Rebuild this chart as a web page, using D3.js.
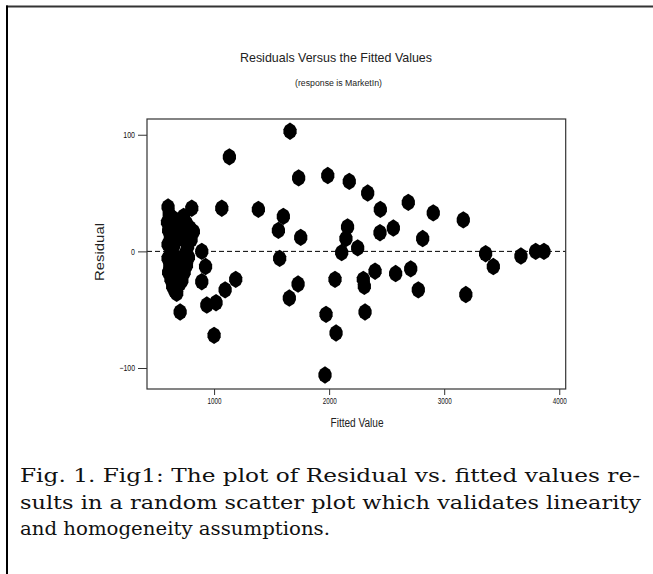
<!DOCTYPE html>
<html><head><meta charset="utf-8">
<script src="https://cdn.jsdelivr.net/npm/d3@7"></script>
<style>body{margin:0;background:#fff}svg{display:block}</style>
</head><body>
<svg id="c" width="653" height="574"></svg>
<script>
const title = "Residuals Versus the Fitted Values";
const subtitle = "(response is MarketIn)";
const xLabel = "Fitted Value";
const yLabel = "Residual";
const xTicks = [1000, 2000, 3000, 4000];
const yTicks = [-100, 0, 100];
const captionLines = [
  "Fig. 1. Fig1: The plot of Residual vs. fitted values re-",
  "sults in a random scatter plot which validates linearity",
  "and homogeneity assumptions."
];
// fitted values and residuals
const fitted = [
  600,610,595,605,620,600,625,600,615,605,625,640,660,675,
  650,660,650,665,660,680,700,720,740,760,750,770,740,700,690,720,
  615,640,735,760,790,820,800,770,806,777,
  1660,1133,1735,1067,1385,1602,1559,1753,1570,
  1988,2175,2335,2445,2688,2905,3166,2160,2146,2442,2558,2813,2109,2248,3360,3667,3795,3867,
  3427,2051,1730,2297,2306,2399,2578,2709,2775,3188,1973,2312,2060,1964,
  1654,1188,1096,1017,937,1000,705,893,926,893
];
const residual = [
  38,32,25,18,12,6,0,-6,-12,-18,-24,-30,-34,-36,
  28,16,5,-5,-15,-22,-28,-25,-18,-12,-2,4,10,12,20,-8,
  30,27,30,24,20,17,10,12,37,-5,
  103,81,63,37,36,30,18,12,-6,
  65,60,50,36,42,33,27,21,11,16,20,11,-1,3,-2,-4,0,0,
  -13,-24,-28,-24,-30,-17,-19,-15,-33,-37,-54,-52,-70,-106,
  -40,-24,-33,-44,-46,-72,-52,0,-13,-26
];

const svg = d3.select("#c");
const narrow = "'Liberation Sans Narrow','Arial Narrow','Liberation Sans',Arial,sans-serif";

// outer frame
svg.append("line").attr("x1",6).attr("x2",653).attr("y1",6.5).attr("y2",6.5).attr("stroke","#333").attr("stroke-width",2);
svg.append("line").attr("x1",7).attr("x2",7).attr("y1",5.5).attr("y2",574).attr("stroke","#000").attr("stroke-width",2);

const L=147, R=565.7, T=119, B=389;
const x = d3.scaleLinear().domain([417, 4056]).range([L, R]);
const y = d3.scaleLinear().domain([-118, 113.5]).range([B, T]);

// title
svg.append("text").attr("x",336).attr("y",62).attr("text-anchor","middle")
  .attr("font-family",narrow).attr("font-size",13).attr("fill","#222")
  .attr("textLength",192).attr("lengthAdjust","spacingAndGlyphs").text(title);
svg.append("text").attr("x",338.5).attr("y",86).attr("text-anchor","middle")
  .attr("font-family",narrow).attr("font-size",8.5).attr("fill","#222")
  .attr("textLength",87).attr("lengthAdjust","spacingAndGlyphs").text(subtitle);

// zero reference line
svg.append("line").attr("x1",L).attr("x2",R).attr("y1",y(0)).attr("y2",y(0))
  .attr("stroke","#000").attr("stroke-width",1).attr("stroke-dasharray","5,3");

// axes
const gx = svg.append("g").attr("transform",`translate(0,${B})`)
  .call(d3.axisBottom(x).tickValues(xTicks).tickSize(6).tickPadding(3).tickFormat(d3.format("d")));
gx.select(".domain").remove();
gx.selectAll(".tick line").attr("stroke","#333");
gx.selectAll(".tick text").attr("font-family",narrow).attr("font-size",9).attr("fill","#111")
  .attr("textLength",14).attr("lengthAdjust","spacingAndGlyphs");

const gy = svg.append("g").attr("transform",`translate(${L},0)`)
  .call(d3.axisLeft(y).tickValues(yTicks).tickSize(9).tickPadding(3).tickFormat(d3.format("d")));
gy.select(".domain").remove();
gy.selectAll(".tick line").attr("stroke","#333");
gy.selectAll(".tick text").attr("font-family",narrow).attr("font-size",9).attr("fill","#111")
  .attr("textLength",d=>String(d).length*3.9).attr("lengthAdjust","spacingAndGlyphs");

// plot frame
svg.append("rect").attr("x",L).attr("y",T).attr("width",R-L).attr("height",B-T)
  .attr("fill","none").attr("stroke","#333").attr("stroke-width",1.2);

// axis labels
svg.append("text").attr("x",357).attr("y",427).attr("text-anchor","middle")
  .attr("font-family",narrow).attr("font-size",12).attr("fill","#222")
  .attr("textLength",53).attr("lengthAdjust","spacingAndGlyphs").text(xLabel);
svg.append("text").attr("transform","translate(104,252) rotate(-90)").attr("text-anchor","middle")
  .attr("font-family","'Liberation Sans',Arial,sans-serif").attr("font-size",12.5).attr("fill","#222")
  .attr("textLength",58).attr("lengthAdjust","spacingAndGlyphs").text(yLabel);

// points
const pts = fitted.map((f,i)=>({f, r: residual[i]}));
const hex = "M0,-8.7L4.8,-5.6L6.6,-2L6.6,2L4.8,5.6L0,8.7L-4.8,5.6L-6.6,2L-6.6,-2L-4.8,-5.6Z";
svg.append("g").selectAll("path").data(pts).join("path")
  .attr("d",hex).attr("transform",d=>`translate(${x(d.f)},${y(d.r)})`).attr("fill","#000");

// caption
const baselines=[482,508.5,535];
const widths=[620,621,310];
captionLines.forEach((t,i)=>{
  svg.append("text").attr("x",20).attr("y",baselines[i])
    .attr("font-family","'DejaVu Serif','Liberation Serif',serif").attr("font-size",19).attr("fill","#111")
    .attr("textLength",widths[i]).attr("lengthAdjust","spacingAndGlyphs").text(t);
});
</script>
</body></html>
